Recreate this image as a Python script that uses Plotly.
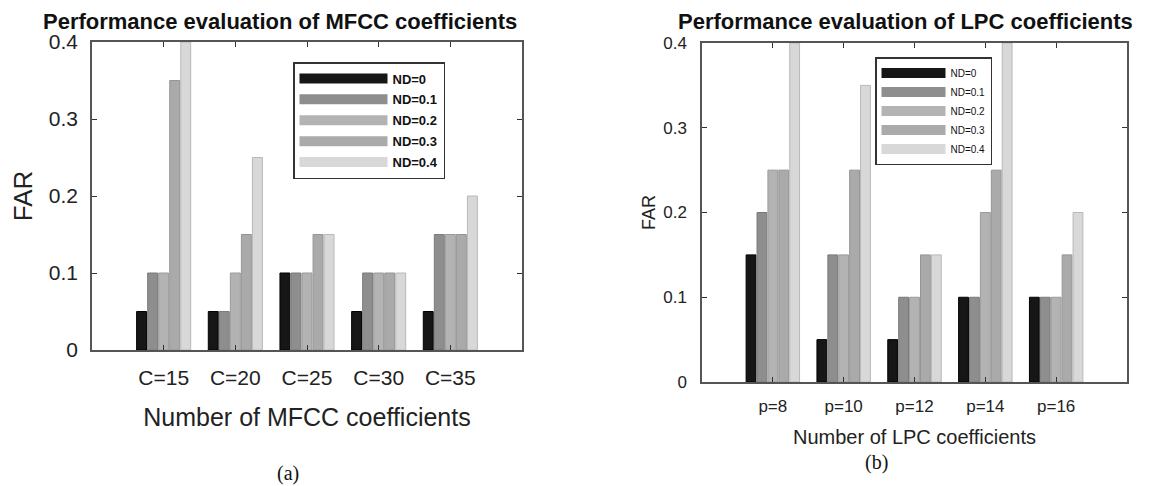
import plotly.graph_objects as go

# ---------------- data ----------------
mfcc_categories = ["C=15", "C=20", "C=25", "C=30", "C=35"]
lpc_categories = ["p=8", "p=10", "p=12", "p=14", "p=16"]
series_names = ["ND=0", "ND=0.1", "ND=0.2", "ND=0.3", "ND=0.4"]

mfcc_nd0 = [0.05, 0.05, 0.10, 0.05, 0.05]
mfcc_nd01 = [0.10, 0.05, 0.10, 0.10, 0.15]
mfcc_nd02 = [0.10, 0.10, 0.10, 0.10, 0.15]
mfcc_nd03 = [0.35, 0.15, 0.15, 0.10, 0.15]
mfcc_nd04 = [0.40, 0.25, 0.15, 0.10, 0.20]

lpc_nd0 = [0.15, 0.05, 0.05, 0.10, 0.10]
lpc_nd01 = [0.20, 0.15, 0.10, 0.10, 0.10]
lpc_nd02 = [0.25, 0.15, 0.10, 0.20, 0.10]
lpc_nd03 = [0.25, 0.25, 0.15, 0.25, 0.15]
lpc_nd04 = [0.40, 0.35, 0.15, 0.40, 0.20]

y_tick_values = [0, 0.1, 0.2, 0.3, 0.4]
y_tick_labels = ["0", "0.1", "0.2", "0.3", "0.4"]

mfcc_series = [mfcc_nd0, mfcc_nd01, mfcc_nd02, mfcc_nd03, mfcc_nd04]
lpc_series = [lpc_nd0, lpc_nd01, lpc_nd02, lpc_nd03, lpc_nd04]

# ---------------- layout helpers ----------------
# The page body has an 8px margin, so the figure is sized to fit the window.
W, H, OFF = 1150, 478, 8


def px(xpix):
    return (xpix - OFF) / W


def py(ypix):
    return 1 - (ypix - OFF) / H


# ---------------- style ----------------
fill_colors = ["#161616", "#8e8e8e", "#b3b3b3", "#aaaaaa", "#d8d8d8"]
edge_colors = ["#000000", "#7a7a7a", "#9a9a9a", "#959595", "#b8b8b8"]
SANS = "Liberation Sans, Arial, sans-serif"
SERIF = "Liberation Serif, Times New Roman, serif"

fig = go.Figure()

for i, name in enumerate(series_names):
    fig.add_trace(go.Bar(
        x=mfcc_categories, y=mfcc_series[i], name=name,
        marker=dict(color=fill_colors[i], line=dict(color=edge_colors[i], width=1)),
        xaxis="x", yaxis="y", showlegend=False,
    ))
for i, name in enumerate(series_names):
    fig.add_trace(go.Bar(
        x=lpc_categories, y=lpc_series[i], name=name,
        marker=dict(color=fill_colors[i], line=dict(color=edge_colors[i], width=1)),
        xaxis="x2", yaxis="y2", showlegend=False,
    ))

# legend keys (wide swatches like the original figure's legend)
for lg, lw in (("legend", 13), ("legend2", 10)):
    for i, name in enumerate(series_names):
        fig.add_trace(go.Scatter(
            x=[None], y=[None], mode="lines", name=name,
            line=dict(color=fill_colors[i], width=lw),
            xaxis="x" if lg == "legend" else "x2",
            yaxis="y" if lg == "legend" else "y2",
            legend=lg, legendgroup=lg + str(i), hoverinfo="skip",
        ))

axis_common = dict(
    showline=True, linecolor="#555555", linewidth=1.5, mirror="ticks",
    ticks="inside", ticklen=5, tickcolor="#333333", showgrid=False,
    zeroline=False,
)

fig.update_layout(
    width=W, height=H,
    margin=dict(l=0, r=0, t=0, b=0, autoexpand=False),
    paper_bgcolor="white", plot_bgcolor="white",
    barmode="group", bargap=0.23, bargroupgap=0.1,
    font=dict(family=SANS, color="#222222"),
    xaxis=dict(domain=[px(92), px(522)], anchor="y", range=[-1, 5],
               tickfont=dict(size=21), ticklabelstandoff=8,
               title=dict(text="Number of MFCC coefficients", font=dict(size=25), standoff=21),
               **axis_common),
    yaxis=dict(domain=[py(350), py(42)], anchor="x", range=[0, 0.4],
               tickvals=y_tick_values, ticktext=y_tick_labels,
               tickfont=dict(size=21), ticklabelstandoff=8,
               title=dict(text="FAR", font=dict(size=26), standoff=11),
               **axis_common),
    xaxis2=dict(domain=[px(702), px(1127)], anchor="y2", range=[-1, 5],
                tickfont=dict(size=17), ticklabelstandoff=8,
                title=dict(text="Number of LPC coefficients", font=dict(size=20), standoff=15),
                **axis_common),
    yaxis2=dict(domain=[py(382), py(43)], anchor="x2", range=[0, 0.4],
                tickvals=y_tick_values, ticktext=y_tick_labels,
                tickfont=dict(size=17), ticklabelstandoff=10,
                title=dict(text="FAR", font=dict(size=18), standoff=3),
                **axis_common),
    legend=dict(x=px(293), y=py(62), xanchor="left", yanchor="top",
                bgcolor="white", bordercolor="#333333", borderwidth=1.5,
                font=dict(size=13, color="#111111", weight="bold"),
                tracegroupgap=1, itemwidth=88),
    legend2=dict(x=px(875), y=py(57), xanchor="left", yanchor="top",
                 bgcolor="white", bordercolor="#333333", borderwidth=1.5,
                 font=dict(size=10, color="#111111"), tracegroupgap=0,
                 itemwidth=64),
    annotations=[
        dict(text="<b>Performance evaluation of MFCC coefficients</b>",
             x=px(280), y=py(21), xref="paper", yref="paper",
             xanchor="center", yanchor="middle", showarrow=False,
             font=dict(size=22, family=SANS, color="#111111")),
        dict(text="<b>Performance evaluation of LPC coefficients</b>",
             x=px(905), y=py(21), xref="paper", yref="paper",
             xanchor="center", yanchor="middle", showarrow=False,
             font=dict(size=22, family=SANS, color="#111111")),
        dict(text="(a)", x=px(288), y=py(473), xref="paper", yref="paper",
             xanchor="center", yanchor="middle", showarrow=False,
             font=dict(size=20, family=SERIF, color="#111111")),
        dict(text="(b)", x=px(876), y=py(462), xref="paper", yref="paper",
             xanchor="center", yanchor="middle", showarrow=False,
             font=dict(size=20, family=SERIF, color="#111111")),
    ],
)

fig.write_html("out.html")
